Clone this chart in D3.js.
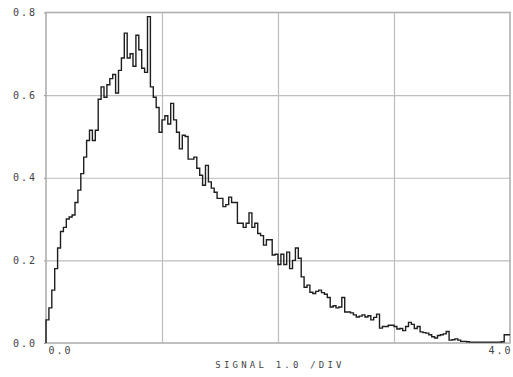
<!DOCTYPE html>
<html>
<head>
<meta charset="utf-8">
<script src="https://cdn.jsdelivr.net/npm/d3@7"></script>
<style>
  html, body { margin: 0; padding: 0; background: #fff; }
  svg { display: block; }
  text { font-family: "DejaVu Sans Mono", monospace; fill: #444; }
</style>
</head>
<body>
<svg id="chart" width="513" height="377"></svg>
<script>
// Histogram bin width (signal units) and bin counts (normalized)
const binWidth = 0.025;
const counts = [
  0.03, 0.056, 0.085, 0.128, 0.18, 0.23, 0.27, 0.28, 0.30, 0.305,
  0.31, 0.34, 0.37, 0.41, 0.45, 0.49, 0.515, 0.49, 0.515, 0.59,
  0.62, 0.595, 0.625, 0.64, 0.65, 0.605, 0.66, 0.69, 0.75, 0.69,
  0.70, 0.67, 0.745, 0.71, 0.665, 0.655, 0.79, 0.62, 0.595, 0.57,
  0.51, 0.54, 0.55, 0.53, 0.58, 0.54, 0.51, 0.47, 0.503, 0.50,
  0.445, 0.445, 0.45, 0.423, 0.406, 0.382, 0.43, 0.39, 0.375, 0.365,
  0.35, 0.35, 0.33, 0.335, 0.353, 0.34, 0.34, 0.29, 0.29, 0.28,
  0.29, 0.315, 0.28, 0.29, 0.265, 0.26, 0.237, 0.25, 0.25, 0.213,
  0.215, 0.19, 0.215, 0.19, 0.22, 0.18, 0.20, 0.23, 0.205, 0.16,
  0.135, 0.14, 0.123, 0.12, 0.125, 0.128, 0.122, 0.118, 0.11, 0.087,
  0.09, 0.085, 0.087, 0.11, 0.075, 0.075, 0.073, 0.068, 0.063, 0.065,
  0.068, 0.063, 0.066, 0.056, 0.062, 0.07, 0.036, 0.04, 0.04, 0.043,
  0.043, 0.04, 0.034, 0.035, 0.03, 0.04, 0.05, 0.045, 0.035, 0.04,
  0.027, 0.025, 0.024, 0.02, 0.015, 0.012, 0.018, 0.02, 0.022, 0.028,
  0.007, 0.008, 0.01, 0.007, 0.004, 0.004, 0.003, 0.002, 0.002, 0.002,
  0.002, 0.002, 0.002, 0.002, 0.002, 0.002, 0.002, 0.002, 0.003, 0.02
];
const yTicks = [0.0, 0.2, 0.4, 0.6, 0.8];
const xGrid = [1, 2, 3];
const xLabels = [0, 4];
const xTitle = "SIGNAL 1.0 /DIV";

const svg = d3.select("#chart");
const mLeft = 46, mRight = 510, mTop = 12.5, mBottom = 343;
const x = d3.scaleLinear().domain([0, 4]).range([mLeft, mRight]);
const y = d3.scaleLinear().domain([0, 0.8]).range([mBottom, mTop]);

// Gridlines
const gx = svg.append("g").attr("transform", `translate(0,${mBottom})`)
  .call(d3.axisBottom(x).tickValues(xGrid).tickSize(-(mBottom - mTop)).tickFormat(""));
gx.select(".domain").remove();
gx.selectAll("line").attr("stroke", "#bdbdbd").attr("stroke-width", 1.2);

const gy = svg.append("g").attr("transform", `translate(${mLeft},0)`)
  .call(d3.axisLeft(y).tickValues(yTicks.slice(1, 4)).tickSize(-(mRight - mLeft)).tickFormat(""));
gy.select(".domain").remove();
gy.selectAll("line").attr("stroke", "#bdbdbd").attr("stroke-width", 1.2);

// Frame
svg.append("rect")
  .attr("x", mLeft).attr("y", mTop)
  .attr("width", mRight - mLeft).attr("height", mBottom - mTop)
  .attr("fill", "none").attr("stroke", "#b0b0b0").attr("stroke-width", 1.6);

// Y axis labels
const ya = svg.append("g").attr("transform", `translate(${mLeft},0)`)
  .call(d3.axisLeft(y).tickValues(yTicks).tickSize(2).tickPadding(7).tickFormat(d3.format(".1f")));
ya.select(".domain").remove();
ya.selectAll("line").attr("stroke", "#999");
ya.selectAll("text")
  .attr("font-family", "DejaVu Sans Mono, monospace")
  .attr("font-size", 10).attr("letter-spacing", 2).attr("fill", "#444")
  .attr("dy", "0.32em");

// X axis labels
const xa = svg.append("g").attr("transform", `translate(0,${mBottom})`)
  .call(d3.axisBottom(x).tickValues(xLabels).tickSize(0).tickPadding(4).tickFormat(d3.format(".1f")));
xa.select(".domain").remove();
xa.selectAll("text")
  .attr("font-family", "DejaVu Sans Mono, monospace")
  .attr("font-size", 10).attr("letter-spacing", 2).attr("fill", "#444")
  .attr("text-anchor", (d, i) => i === 0 ? "start" : "end")
  .attr("dx", 2);

svg.append("text")
  .attr("x", (mLeft + mRight) / 2 + 2).attr("y", 368)
  .attr("text-anchor", "middle")
  .attr("font-size", 9).attr("letter-spacing", 3.2).attr("fill", "#444")
  .text(xTitle);

// Histogram step line
const pts = counts.map((c, i) => [i * binWidth, c]);
pts.push([counts.length * binWidth, counts[counts.length - 1]]);
svg.append("path")
  .datum([[0, 0]].concat(pts))
  .attr("d", d3.line().x(d => x(d[0])).y(d => y(d[1])).curve(d3.curveStepBefore))
  .attr("fill", "none").attr("stroke", "#1e1e1e").attr("stroke-width", 1.4)
  .attr("stroke-linejoin", "miter");
</script>
</body>
</html>
